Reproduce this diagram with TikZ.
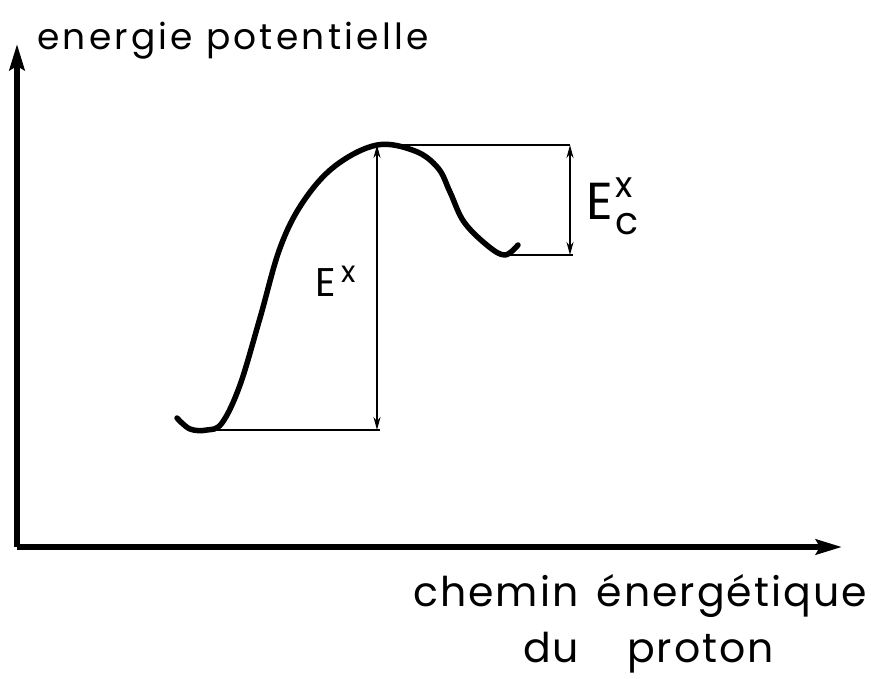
\documentclass[tikz,border=0pt]{standalone}
\usepackage{fontspec}
\setmainfont{Poppins}
\usetikzlibrary{arrows.meta}

\begin{document}
\begin{tikzpicture}[
  x=1pt,y=-1pt,
  axis/.style={line width=5.5pt,-{Stealth[length=26pt,width=15pt,inset=4pt]}},
  curve/.style={line width=5.5pt,line cap=round,line join=round},
  level/.style={line width=1.8pt},
  gap/.style={line width=1.8pt,{Stealth[length=13pt,width=7pt]}-{Stealth[length=13pt,width=7pt]}},
  lab/.style={inner sep=0pt,font=\fontsize{36}{44}\selectfont\addfontfeature{LetterSpace=9}},
  lab2/.style={inner sep=0pt,font=\fontsize{41}{48}\selectfont\addfontfeature{LetterSpace=5}},
  sym/.style={inner sep=0pt,font=\fontsize{40}{48}\selectfont}
]
\useasboundingbox (0,0) rectangle (871,679);
\coordinate (o) at (17,547);
\coordinate (yt) at (17,44);
\coordinate (xt) at (842,547);
\coordinate (low) at (205,430);
\coordinate (peak) at (377,145);
\coordinate (well) at (502,255);
\coordinate (lowend) at (380,430);
\coordinate (top) at (570,145);
\coordinate (wellend) at (573,255);

\draw[axis] (o) -- (yt);
\draw[axis] (o) -- (xt);

\draw[curve] plot[smooth,tension=0.6] coordinates {(177,418) (190,429) (207,430) (222,423)
  (240,385) (260,318) (280,248) (303,202) (335,166) (377,145) (415,151) (438,168)
  (450,192) (464,222) (488,246) (505,255) (518,245)};

\draw[level] (low) -- (lowend);
\draw[level] (peak) -- (top);
\draw[level] (well) -- (wellend);
\draw[gap] (lowend -| peak) -- (peak);
\draw[gap] (top) -- (top |- wellend);

\node[lab,anchor=base west] (ep) at (37,50) {energie potentielle};
\node[lab2,anchor=base west] (ch) at (413,606) {chemin\hspace{18pt}énergétique};
\node[lab2,anchor=base west] (dp) at (523,662) {du\hspace{48pt}proton};
\node[sym,anchor=base west] (ex) at (315,297)
  {E\hspace{6pt}\raisebox{14pt}{\fontsize{30}{32}\selectfont x}};
\node[sym,anchor=base west,font=\fontsize{52}{60}\selectfont] (ecx) at (586,220)
  {E\hspace{3pt}\rlap{\raisebox{22pt}{\fontsize{36}{38}\selectfont x}}\raisebox{-15pt}{\fontsize{38}{40}\selectfont c}};
\end{tikzpicture}
\end{document}
